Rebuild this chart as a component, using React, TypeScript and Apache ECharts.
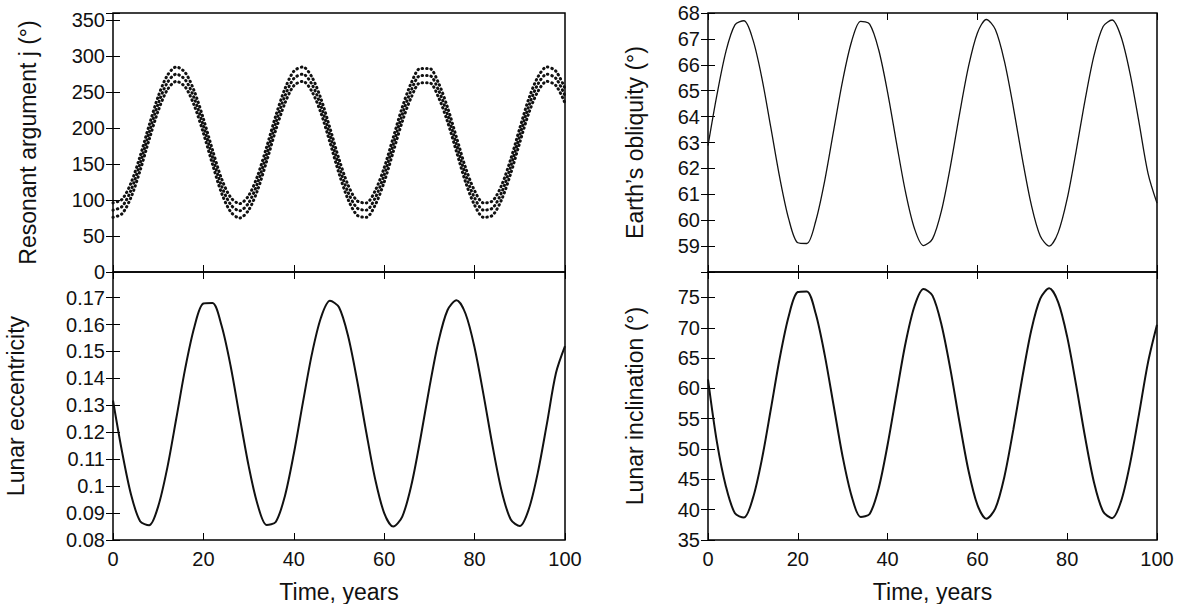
import React, { useEffect, useRef } from 'react';
import * as echarts from 'echarts';

const years = [0, 2, 4, 6, 8, 10, 12, 14, 16, 18, 20, 22, 24, 26, 28, 30, 32, 34, 36, 38, 40, 42, 44, 46, 48, 50, 52, 54, 56, 58, 60, 62, 64, 66, 68, 70, 72, 74, 76, 78, 80, 82, 84, 86, 88, 90, 92, 94, 96, 98, 100];

const resonantMid = [86, 91, 114, 151, 194, 234, 263, 275, 267, 241, 203, 160, 120, 94, 85, 96, 124, 164, 207, 244, 269, 275, 261, 231, 190, 147, 111, 89, 86, 103, 135, 177, 219, 253, 273, 273, 253, 219, 177, 135, 103, 86, 89, 111, 147, 190, 231, 261, 275, 269, 245];
const resonantLow = [76, 81, 104, 141, 184, 224, 253, 265, 257, 231, 193, 150, 110, 84, 75, 86, 114, 154, 197, 234, 259, 265, 251, 221, 180, 137, 101, 79, 76, 93, 125, 167, 209, 243, 263, 263, 243, 209, 167, 125, 93, 76, 79, 101, 137, 180, 221, 251, 265, 259, 235];
const resonantHigh = [96, 101, 124, 161, 204, 244, 273, 285, 277, 251, 213, 170, 130, 104, 95, 106, 134, 174, 217, 254, 279, 285, 271, 241, 200, 157, 121, 99, 96, 113, 145, 187, 229, 263, 283, 283, 263, 229, 187, 145, 113, 96, 99, 121, 157, 200, 241, 271, 285, 279, 255];

const obliquity = [62.88, 64.85, 66.52, 67.54, 67.7, 66.97, 65.49, 63.57, 61.62, 60.03, 59.13, 59.1, 59.97, 61.53, 63.48, 65.4, 66.91, 67.68, 67.57, 66.59, 64.94, 62.97, 61.08, 59.67, 59.02, 59.28, 60.37, 62.09, 64.08, 65.92, 67.23, 67.75, 67.36, 66.15, 64.37, 62.38, 60.6, 59.39, 59.0, 59.53, 60.83, 62.68, 64.66, 66.38, 67.48, 67.73, 67.08, 65.66, 63.77, 61.81, 60.66];

const eccentricity = [0.1318, 0.1128, 0.0968, 0.087, 0.0855, 0.0925, 0.1067, 0.1251, 0.1439, 0.1591, 0.1678, 0.168, 0.1597, 0.1448, 0.126, 0.1076, 0.0931, 0.0856, 0.0867, 0.0961, 0.112, 0.1309, 0.149, 0.1625, 0.1688, 0.1664, 0.1558, 0.1393, 0.1203, 0.1026, 0.09, 0.085, 0.0887, 0.1003, 0.1175, 0.1366, 0.1537, 0.1653, 0.169, 0.164, 0.1514, 0.1337, 0.1147, 0.0981, 0.0876, 0.0852, 0.0915, 0.1051, 0.1232, 0.142, 0.152];

const inclination = [61.5, 51.1, 43.8, 39.4, 38.7, 41.9, 48.3, 56.6, 65.1, 72.0, 75.9, 76.0, 72.3, 65.5, 57.1, 48.7, 42.2, 38.8, 39.3, 43.5, 50.7, 59.2, 67.5, 73.6, 76.4, 75.3, 70.5, 63.1, 54.5, 46.5, 40.8, 38.5, 40.2, 45.4, 53.2, 61.8, 69.6, 74.8, 76.5, 74.2, 68.5, 60.5, 51.9, 44.4, 39.7, 38.6, 41.4, 47.6, 55.8, 64.3, 70.5];

const FONT = 'Liberation Sans';

const pairs = (ys: number[]) => years.map((x, i) => [x, ys[i]]);

export default function App() {
  const ref = useRef<HTMLDivElement>(null);

  useEffect(() => {
    if (!ref.current) return;
    const chart = echarts.init(ref.current, undefined, { renderer: 'svg' });

    const grids = [
      { left: 113, top: 13, width: 452, height: 259 },
      { left: 113, top: 272, width: 452, height: 273 },
      { left: 708, top: 13, width: 449, height: 259 },
      { left: 708, top: 272, width: 449, height: 273 },
    ].map((g) => ({ ...g, show: true, borderColor: '#000', borderWidth: 1.5, backgroundColor: 'transparent' }));

    const tickStyle = { inside: true, length: 7, lineStyle: { color: '#000', width: 1 } };
    const label = { color: '#111', fontSize: 20, fontFamily: FONT };
    const nameStyle = { color: '#111', fontSize: 23, fontFamily: FONT };

    const xAxes: any[] = [];
    [0, 1, 2, 3].forEach((g) => {
      const bottom = g === 1 || g === 3;
      xAxes.push({
        type: 'value', gridIndex: g, min: 0, max: 100, interval: 20,
        axisLine: { show: false }, splitLine: { show: false }, axisTick: tickStyle,
        axisLabel: { ...label, show: bottom, margin: 9 },
        name: bottom ? 'Time, years' : '', nameLocation: 'middle', nameGap: 40,
        nameTextStyle: nameStyle,
      });
      xAxes.push({
        type: 'value', gridIndex: g, min: 0, max: 100, interval: 20, position: 'top',
        axisLine: { show: false }, splitLine: { show: false }, axisTick: tickStyle, axisLabel: { show: false },
      });
    });

    const yDefs = [
      { min: 0, max: 360, interval: 50, name: 'Resonant argument j (°)', gap: 74, fmt: (v: number) => (v > 350 ? '' : String(v)) },
      { min: 0.08, max: 0.1795, interval: 0.01, name: 'Lunar eccentricity', gap: 86, fmt: (v: number) => (v > 0.175 ? '' : String(+v.toFixed(2))) },
      { min: 58, max: 68, interval: 1, name: 'Earth’s obliquity (°)', gap: 62, fmt: (v: number) => (v < 58.5 ? '' : String(v)) },
      { min: 35, max: 79.2, interval: 5, name: 'Lunar inclination (°)', gap: 62, fmt: (v: number) => (v > 76 ? '' : String(v)) },
    ];
    const yAxes: any[] = [];
    yDefs.forEach((d, g) => {
      yAxes.push({
        type: 'value', gridIndex: g, min: d.min, max: d.max, interval: d.interval,
        axisLine: { show: false }, splitLine: { show: false }, axisTick: tickStyle,
        axisLabel: { ...label, formatter: d.fmt, showMinLabel: true, showMaxLabel: true, margin: 8 },
        name: d.name, nameLocation: 'middle', nameGap: d.gap,
        nameTextStyle: nameStyle,
      });
      yAxes.push({
        type: 'value', gridIndex: g, min: d.min, max: d.max, interval: d.interval, position: 'right',
        axisLine: { show: false }, splitLine: { show: false }, axisTick: tickStyle, axisLabel: { show: false },
      });
    });

    const line = (g: number, ys: number[], dotted = false) => ({
      type: 'line', xAxisIndex: g * 2, yAxisIndex: g * 2, data: pairs(ys), smooth: 0.3,
      showSymbol: false, silent: true,
      lineStyle: dotted
        ? { color: '#111', width: 3, type: [0.5, 4], cap: 'round' }
        : { color: '#111', width: g === 2 ? 1.3 : 2 },
    });

    chart.setOption({
      animation: false,
      backgroundColor: '#fff',
      grid: grids,
      xAxis: xAxes,
      yAxis: yAxes,
      series: [
        line(0, resonantLow, true),
        line(0, resonantMid, true),
        line(0, resonantHigh, true),
        line(1, eccentricity),
        line(2, obliquity),
        line(3, inclination),
      ],
    });

    return () => chart.dispose();
  }, []);

  return <div ref={ref} style={{ position: 'absolute', left: 0, top: 0, width: 1178, height: 604 }} />;
}
